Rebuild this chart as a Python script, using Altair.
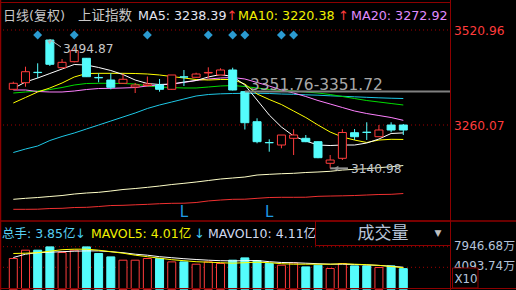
import altair as alt
import pandas as pd

# ---------------- data ----------------
candle_idx = list(range(33))
opens  = [3358.1, 3376.2, 3404.8, 3493.5, 3417.4, 3433.9, 3443.3, 3390.6, 3383.6, 3374.6,
          3364.4, 3368.5, 3369.9, 3358.1, 3392.4, 3391.1, 3403.0, 3397.4, 3411.1, 3351.72,
          3269.1, 3212.0, 3205.1, 3223.5, 3223.5, 3214.2, 3154.9, 3168.6, 3238.9, 3240.4,
          3227.9, 3260.0, 3260.0]
highs  = [3379.0, 3420.2, 3429.5, 3494.87, 3441.3, 3470.7, 3444.0, 3402.1, 3402.1, 3400.1,
          3375.4, 3393.2, 3386.4, 3397.4, 3411.1, 3403.7, 3418.5, 3415.8, 3417.4, 3351.76,
          3278.5, 3220.8, 3232.6, 3248.3, 3232.6, 3215.0, 3177.6, 3248.5, 3249.1, 3267.5,
          3260.0, 3267.5, 3262.8]
lows   = [3356.2, 3365.2, 3388.3, 3422.1, 3416.0, 3432.0, 3392.0, 3377.3, 3358.1, 3373.0,
          3347.9, 3365.8, 3351.5, 3357.0, 3367.2, 3390.0, 3388.3, 3397.0, 3355.0, 3247.7,
          3209.8, 3186.7, 3196.1, 3177.6, 3213.0, 3169.0, 3140.98, 3163.9, 3218.9, 3219.0,
          3227.0, 3240.0, 3232.6]
closes = [3374.6, 3406.4, 3404.0, 3426.8, 3432.2, 3464.1, 3392.7, 3389.6, 3363.6, 3385.6,
          3369.9, 3372.6, 3358.1, 3397.4, 3391.6, 3400.1, 3404.4, 3411.1, 3356.2, 3266.4,
          3214.2, 3211.2, 3232.5, 3232.6, 3214.2, 3170.3, 3163.9, 3239.5, 3227.9, 3239.6,
          3246.3, 3246.3, 3246.3]

ma5  = [3360.3, 3378.1, 3389.1, 3401.5, 3413.8, 3426.2, 3424.8, 3418.0, 3409.7, 3398.7,
        3383.6, 3374.0, 3371.3, 3372.6, 3378.1, 3382.3, 3391.9, 3398.7, 3393.2, 3369.9,
        3328.7, 3287.5, 3254.5, 3229.8, 3216.1, 3205.1, 3203.7, 3205.1, 3205.1, 3210.6,
        3221.6, 3236.7, 3238.39]
ma10 = [3320.5, 3335.6, 3350.7, 3361.7, 3375.4, 3391.9, 3401.5, 3402.0, 3402.0, 3402.0,
        3401.5, 3400.1, 3397.4, 3393.2, 3389.1, 3385.0, 3383.6, 3385.0, 3385.0, 3372.6,
        3345.2, 3330.1, 3316.3, 3298.5, 3280.6, 3260.0, 3240.8, 3227.1, 3218.8, 3212.0,
        3218.8, 3220.8, 3220.38]
ma20 = [3356.2, 3356.2, 3352.1, 3350.7, 3350.7, 3353.4, 3357.5, 3360.3, 3360.8, 3361.7,
        3363.0, 3367.2, 3369.9, 3372.6, 3376.8, 3382.3, 3386.4, 3389.1, 3390.5, 3386.4,
        3376.8, 3367.2, 3356.2, 3347.9, 3338.3, 3327.3, 3317.7, 3308.1, 3298.5, 3291.6,
        3286.1, 3280.6, 3272.92]
ma_green = [3347.9, 3350.7, 3353.4, 3357.5, 3363.0, 3369.9, 3374.0, 3374.6, 3374.6, 3374.0,
            3372.6, 3367.2, 3364.4, 3363.0, 3361.7, 3361.7, 3364.4, 3367.2, 3368.5, 3365.8,
            3361.7, 3357.5, 3354.8, 3353.4, 3350.7, 3347.9, 3343.8, 3338.3, 3332.8, 3327.3,
            3323.2, 3319.1, 3315.0]
ma_cyan = [3184.5, 3194.1, 3202.4, 3217.5, 3228.5, 3238.1, 3249.1, 3260.0, 3271.0, 3282.0,
           3293.0, 3305.4, 3315.0, 3323.2, 3331.5, 3339.7, 3343.8, 3345.7, 3346.6, 3347.1,
           3347.1, 3346.6, 3345.2, 3344.4, 3343.0, 3341.9, 3340.2, 3338.9, 3337.5, 3336.1,
           3334.7, 3333.6, 3332.8]
ma_cream = [3056.0, 3058.7, 3060.9, 3063.7, 3066.4, 3070.5, 3073.3, 3075.2, 3078.8, 3082.9,
            3085.6, 3088.9, 3092.5, 3096.6, 3099.9, 3103.5, 3107.6, 3111.7, 3114.5, 3117.2,
            3122.7, 3124.6, 3126.3, 3127.4, 3129.6, 3131.0, 3132.9, 3136.4, 3138.4, 3140.0,
            3142.8, 3145.5, 3148.8]
ma_red = [3028.5, 3028.5, 3028.8, 3030.7, 3031.3, 3033.5, 3034.0, 3036.2, 3038.9, 3039.5,
          3040.9, 3042.2, 3043.9, 3045.0, 3045.3, 3047.2, 3051.5, 3054.0, 3056.0, 3056.3,
          3058.7, 3060.9, 3061.5, 3061.5, 3061.7, 3064.2, 3065.0, 3065.6, 3066.4, 3067.8,
          3069.2, 3069.7, 3071.9]

# volume in 万 (display units, X10)
vol = [5741, 7293, 7293, 7910, 6863, 7293, 7910, 6676, 6040, 5423,
       5423, 5741, 5741, 5105, 5105, 4675, 5105, 4806, 5423, 5853,
       5330, 4806, 4488, 4918, 4170, 4488, 3871, 4806, 4357, 4357,
       4058, 4357, 3850]
mavol5 = [6676, 6732, 6826, 7106, 7387, 7480, 7480, 7293, 7013, 6732,
          6358, 6078, 5797, 5517, 5330, 5143, 5049, 4956, 4862, 4956,
          5049, 4956, 4769, 4675, 4675, 4675, 4675, 4769, 4675, 4582,
          4450, 4250, 4010]
mavol10 = [5928, 6545, 6826, 6919, 7013, 7106, 7162, 7162, 7013, 6826,
           6545, 6358, 6078, 5891, 5704, 5554, 5423, 5330, 5292, 5330,
           5367, 5143, 4993, 4956, 4862, 4769, 4675, 4675, 4619, 4544,
           4450, 4300, 4110]

signal_idx = [2, 5, 11, 16, 18, 19, 22, 23]
low_mark_idx = [14, 21]
price_grid = [3520.96, 3260.07]
vol_grid = [7946.68, 4093.74]

# ---------------- styles ----------------
RED = "#ff3c3c"
CYAN = "#54fcfc"
FRAME = "#8c0000"
DOT = "#a00000"
FONT = "DejaVu Sans, Noto Sans CJK SC, sans-serif"
AFONT = "DejaVu Sans"

xs = alt.Scale(domain=[0, 32], range=[8.3, 408.3])
ps = alt.Scale(domain=[3260.07, 3520.96], range=[125, 30], zero=False, nice=False)
vs = alt.Scale(domain=[0, 7946.68], range=[289.2, 246.7], zero=False, nice=False)
X = alt.X("i:Q", scale=xs, axis=None)


def blank():
    return alt.Chart(alt.Data(values=[{}]))


def label(text, x, y, color, size=12.7, align="left", font=FONT, baseline="middle"):
    return blank().mark_text(text=text, color=color, fontSize=size, align=align,
                             baseline=baseline, font=font).encode(x=alt.value(x), y=alt.value(y))


def hline(y, x1, x2, color, width=1, dash=None):
    kw = dict(color=color, strokeWidth=width)
    if dash:
        kw["strokeDash"] = dash
    return blank().mark_rule(**kw).encode(x=alt.value(x1), x2=alt.value(x2), y=alt.value(y))


def vline(x, y1, y2, color, width=1):
    return blank().mark_rule(color=color, strokeWidth=width).encode(
        x=alt.value(x), y=alt.value(y1), y2=alt.value(y2))


def ma_layer(values, color, scale):
    d = pd.DataFrame({"i": candle_idx, "v": values})
    return alt.Chart(d).mark_line(color=color, strokeWidth=1).encode(
        x=X, y=alt.Y("v:Q", scale=scale, axis=None))


df = pd.DataFrame({"i": candle_idx, "o": opens, "h": highs, "l": lows, "c": closes, "v": vol})
df["up"] = df["c"] >= df["o"]
up = "datum.up"

layers = []

# dotted grid lines
layers.append(alt.Chart(pd.DataFrame({"p": price_grid})).mark_rule(color=DOT, strokeDash=[1, 3]).encode(
    y=alt.Y("p:Q", scale=ps, axis=None), x=alt.value(3), x2=alt.value(450)))
layers.append(alt.Chart(pd.DataFrame({"p": vol_grid})).mark_rule(color=DOT, strokeDash=[1, 3]).encode(
    y=alt.Y("p:Q", scale=vs, axis=None), x=alt.value(3), x2=alt.value(450)))

# moving averages
layers += [
    ma_layer(ma_red, "#f03030", ps),
    ma_layer(ma_cream, "#ffffc8", ps),
    ma_layer(ma_cyan, "#1ec8e6", ps),
    ma_layer(ma_green, "#00dc00", ps),
    ma_layer(ma20, "#ff80ff", ps),
    ma_layer(ma10, "#ffff00", ps),
    ma_layer(ma5, "#ffffff", ps),
]

# candles
layers.append(alt.Chart(df).mark_rule(strokeWidth=1).encode(
    x=X, y=alt.Y("l:Q", scale=ps, axis=None), y2="h:Q",
    color=alt.condition(up, alt.value(RED), alt.value(CYAN))))
layers.append(alt.Chart(df).mark_bar(width=8, strokeWidth=1).encode(
    x=X, y=alt.Y("o:Q", scale=ps, axis=None), y2="c:Q",
    fill=alt.condition(up, alt.value("#000000"), alt.value(CYAN)),
    stroke=alt.condition(up, alt.value(RED), alt.value(CYAN))))

# annotations
gap = pd.DataFrame({"i": [19], "p": [highs[19]]})
layers.append(alt.Chart(gap).mark_rule(color="#808080", strokeWidth=2).encode(
    x=X, x2=alt.value(450), y=alt.Y("p:Q", scale=ps, axis=None)))
layers.append(label(f"{highs[19]:.2f}-{opens[19]:.2f}", 250, 89.5, "#a8a8a8", size=15.4,
                    baseline="alphabetic"))

peak = pd.DataFrame({"i": [3], "p": [highs[3]]})
layers.append(alt.Chart(peak).mark_rule(color="#b4b4b4", strokeWidth=1).encode(
    x=X, y=alt.Y("p:Q", scale=ps, axis=None), x2=alt.value(61), y2=alt.value(47)))
layers.append(blank().mark_point(shape="triangle-up", filled=True, size=22, angle=297,
                                 color="#b4b4b4", opacity=1).encode(x=alt.value(49), y=alt.value(41.5)))
layers.append(label(f"{highs[3]:.2f}", 63, 49, "#c8c8c8", size=12.2))

trough = pd.DataFrame({"i": [26], "p": [lows[26]]})
layers.append(alt.Chart(trough).mark_rule(color="#909090", strokeWidth=2).encode(
    x=X, y=alt.Y("p:Q", scale=ps, axis=None), x2=alt.value(348)))
layers.append(blank().mark_point(shape="triangle-left", filled=True, size=30,
                                 color="#909090", opacity=1).encode(x=alt.value(336), y=alt.value(168.4)))
layers.append(label(f"{lows[26]:.2f}", 351, 168.5, "#c0c8d0", size=12.2))

# signal markers
layers.append(alt.Chart(pd.DataFrame({"i": signal_idx})).mark_point(
    shape="diamond", filled=True, size=80, color="#2b9ad0", opacity=1).encode(x=X, y=alt.value(35)))
layers.append(alt.Chart(pd.DataFrame({"i": low_mark_idx})).mark_text(
    text="L", color="#1e9be6", fontSize=15, font=FONT).encode(x=X, y=alt.value(212)))

# mask right area and right price labels
layers.append(blank().mark_rect(color="#000000").encode(
    x=alt.value(451), x2=alt.value(516), y=alt.value(3), y2=alt.value(220)))
layers.append(alt.Chart(pd.DataFrame({"p": price_grid})).mark_text(
    align="left", color=RED, fontSize=12.2, font=FONT, dy=1).encode(
    x=alt.value(454), y=alt.Y("p:Q", scale=ps, axis=None), text=alt.Text("p:Q", format=".2f")))

# header
layers += [
    label("日线(复权)", 3, 16, "#c8c8c8", size=13),
    label("上证指数", 78, 16, "#c8c8c8", size=13.5),
    label(f"MA5: {ma5[-1]:.2f}", 138, 16, "#e4e4f0"),
    label("↑", 232, 16, RED, size=13, align="center", font=AFONT),
    label(f"MA10: {ma10[-1]:.2f}", 238, 16, "#f0f000"),
    label("↑", 343.5, 16, RED, size=13, align="center", font=AFONT),
    label(f"MA20: {ma20[-1]:.2f}", 351, 16, "#e08cff"),
]
layers.append(blank().mark_rect(color="#000000").encode(
    x=alt.value(451), x2=alt.value(516), y=alt.value(4), y2=alt.value(24)))

# volume
layers.append(alt.Chart(df).mark_bar(width=8, strokeWidth=1).encode(
    x=X, y=alt.Y("v:Q", scale=vs, axis=None),
    fill=alt.condition(up, alt.value("#000000"), alt.value(CYAN)),
    stroke=alt.condition(up, alt.value(RED), alt.value(CYAN))))
layers.append(ma_layer(mavol10, "#ffffff", vs))
layers.append(ma_layer(mavol5, "#ffff00", vs))

# volume header
layers += [
    label(f"总手: {vol[-1] / 1000:.2f}亿", 2, 234, "#58d0f4", size=12.5),
    label("↓", 80.5, 234, "#40c8f0", size=13, align="center", font=AFONT),
    label(f"MAVOL5: {mavol5[-1] / 1000:.2f}亿", 91, 234, "#f0f000", size=12.5),
    label("↓", 199.5, 234, "#40c8f0", size=13, align="center", font=AFONT),
    label(f"MAVOL10: {mavol10[-1] / 1000:.2f}亿", 208, 234, "#d0d8f0", size=12.5),
]
layers.append(blank().mark_rect(fill="#000000", stroke=FRAME, strokeWidth=1).encode(
    x=alt.value(315.5), x2=alt.value(450.5), y=alt.value(221), y2=alt.value(245.5)))
layers.append(label("成交量", 383, 234, "#b8c4d8", size=17, align="center"))
layers.append(label("▼", 438, 233, "#c0c0c0", size=9, align="center", font=AFONT))

# volume right labels
vl = pd.DataFrame({"p": vol_grid})
layers.append(alt.Chart(vl).transform_calculate(t="format(datum.p, '.2f') + '万'").mark_text(
    align="left", color="#b4c4dc", fontSize=11.9, font=FONT, dy=-1).encode(
    x=alt.value(454), y=alt.Y("p:Q", scale=vs, axis=None), text="t:N"))
layers.append(blank().mark_rect(fill="#000000", stroke=FRAME, strokeWidth=1).encode(
    x=alt.value(452.5), x2=alt.value(478), y=alt.value(268), y2=alt.value(288)))
layers.append(label("X10", 454.5, 278.5, "#b4c4dc", size=11.8))

# frame
layers += [
    hline(2.5, 0, 450, FRAME),
    vline(0.5, 0, 290, FRAME, 1.5),
    vline(450.5, 0, 290, FRAME),
    hline(221, 0, 516, FRAME, 1.5),
    hline(288.5, 0, 516, FRAME),
]

chart = alt.layer(*layers).resolve_scale(y="independent").properties(
    width=516, height=290, padding=0, autosize=alt.AutoSizeParams(type="none")
).configure(background="#000000").configure_view(strokeWidth=0)

chart.save("out.html", embed_options={"renderer": "svg", "actions": False})
